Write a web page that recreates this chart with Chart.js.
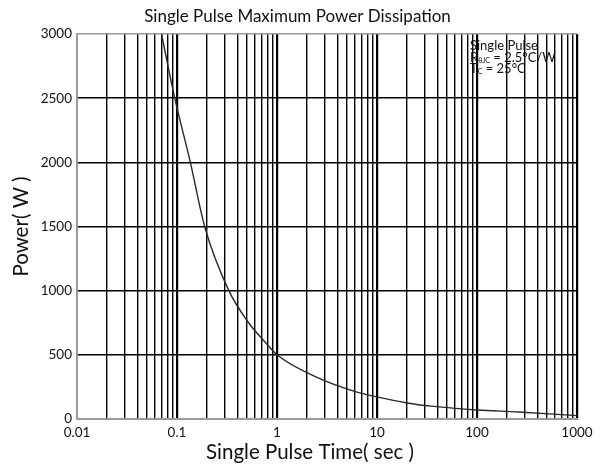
<!DOCTYPE html>
<html>
<head>
<meta charset="utf-8">
<script src="https://cdn.jsdelivr.net/npm/chart.js@4/dist/chart.umd.min.js"></script>
<style>
html,body{margin:0;padding:0;background:#fff;}
canvas{display:block;}
</style>
</head>
<body>
<canvas id="c" width="600" height="465"></canvas>
<script>
// ---- data ----
const pulseTime = [0.07, 0.095, 0.136, 0.189, 0.33, 0.52, 0.72, 1, 2.45, 5.75, 10, 20, 35, 100, 260, 1000];
const powerW    = [3000, 2500, 2000, 1500, 1000, 750, 620, 500, 328, 219, 172, 125, 100, 70, 55, 26];
const xDecades = [0.01, 0.1, 1, 10, 100, 1000];
const xTickLabels = ['0.01', '0.1', '1', '10', '100', '1000'];
const xMultipliers = [1, 2, 3, 4, 5, 6, 7, 8, 9];
const yTicks = [0, 500, 1000, 1500, 2000, 2500, 3000];
const titleText = 'Single Pulse Maximum Power Dissipation';
const xTitle = 'Single Pulse Time( sec )';
const yTitle = 'Power( W )';

const xGridValues = [];
xDecades.forEach((d, i) => {
  if (i === xDecades.length - 1) { xGridValues.push(d); return; }
  xMultipliers.forEach(m => xGridValues.push(Number((m * d).toPrecision(3))));
});

const FONT = 'Lato, "Liberation Sans", sans-serif';
const GRAY = '#9a9a9a';

const notePlugin = {
  id: 'note',
  afterDraw(chart) {
    const {ctx, chartArea} = chart;
    const x0 = chartArea.right - 107;
    const y0 = chartArea.top;
    ctx.save();
    ctx.fillStyle = '#111';
    ctx.textBaseline = 'alphabetic';
    ctx.textAlign = 'left';
    ctx.font = '13px ' + FONT;
    ctx.fillText('Single Pulse', x0, y0 + 16);
    // line 2: R θJC = 2.5°C/W
    let x = x0;
    ctx.fillText('R', x, y0 + 28);
    x += ctx.measureText('R').width;
    ctx.font = '7px ' + FONT;
    ctx.fillText('θJC', x, y0 + 29);
    x += ctx.measureText('θJC').width;
    ctx.font = '13px ' + FONT;
    ctx.fillText(' = 2.5°C/W', x, y0 + 28);
    // line 3: T C = 25°C
    x = x0;
    ctx.fillText('T', x, y0 + 39);
    x += ctx.measureText('T').width;
    ctx.font = '7px ' + FONT;
    ctx.fillText('C', x, y0 + 40);
    x += ctx.measureText('C').width;
    ctx.font = '13px ' + FONT;
    ctx.fillText(' = 25°C', x, y0 + 39);
    // x axis title (reference places it left of the axis centre)
    ctx.font = '20.5px ' + FONT;
    ctx.textAlign = 'center';
    ctx.fillText(xTitle, chartArea.left + 233, chart.height - 6);
    ctx.restore();
  }
};

new Chart(document.getElementById('c'), {
  type: 'scatter',
  data: {
    datasets: [{
      data: pulseTime.map((t, i) => ({x: t, y: powerW[i]})),
      showLine: true,
      borderColor: '#2a2a2a',
      borderWidth: 1.4,
      pointRadius: 0,
      cubicInterpolationMode: 'monotone',
      fill: false,
      xAxisID: 'x',
      yAxisID: 'y'
    }]
  },
  options: {
    responsive: false,
    devicePixelRatio: 1,
    animation: false,
    layout: {padding: {left: 0, right: 5, top: 0, bottom: 0}},
    plugins: {
      legend: {display: false},
      tooltip: {enabled: false},
      title: {
        display: true,
        text: titleText,
        color: '#111',
        font: {family: FONT, size: 17, weight: 'normal'},
        padding: {top: 6, bottom: 7.6}
      }
    },
    scales: {
      x: {
        type: 'logarithmic',
        min: 0.01,
        max: 1000,
        afterBuildTicks(scale) { scale.ticks = xGridValues.map(v => ({value: v})); },
        afterFit(scale) { scale.height = 46; },
        border: {display: true, color: GRAY, width: 2},
        grid: {
          drawTicks: false,
          color: c => (c.tick && c.tick.value === 0.01) ? 'rgba(0,0,0,0)' : '#000',
          lineWidth: c => (c.tick && xDecades.includes(c.tick.value)) ? 2.2 : 1.4
        },
        ticks: {
          autoSkip: false,
          maxRotation: 0,
          minRotation: 0,
          padding: 6,
          color: '#111',
          font: {family: FONT, size: 13.5},
          callback: (v) => {
            const i = xDecades.indexOf(Number(v));
            return i >= 0 ? xTickLabels[i] : '';
          }
        },
        title: {display: false}
      },
      y: {
        type: 'linear',
        min: 0,
        max: 3000,
        afterBuildTicks(scale) { scale.ticks = yTicks.map(v => ({value: v})); },
        afterFit(scale) { scale.width = 77; },
        border: {display: true, color: GRAY, width: 2},
        grid: {
          drawTicks: false,
          color: c => {
            if (!c.tick) return '#000';
            if (c.tick.value === 0) return 'rgba(0,0,0,0)';
            if (c.tick.value === 3000) return GRAY;
            return '#000';
          },
          lineWidth: 1.4
        },
        ticks: {
          padding: 5,
          color: '#111',
          font: {family: FONT, size: 13.5},
          callback: v => String(v)
        },
        title: {
          display: true,
          text: yTitle,
          color: '#111',
          font: {family: FONT, size: 20.5},
          padding: {top: 9, bottom: 0}
        }
      },
      yRight: {
        type: 'linear',
        position: 'right',
        display: true,
        min: 0,
        max: 1,
        afterFit(scale) { scale.width = 18; },
        border: {display: false},
        grid: {display: false, drawTicks: false},
        ticks: {display: false}
      }
    }
  },
  plugins: [notePlugin]
});
</script>
</body>
</html>
